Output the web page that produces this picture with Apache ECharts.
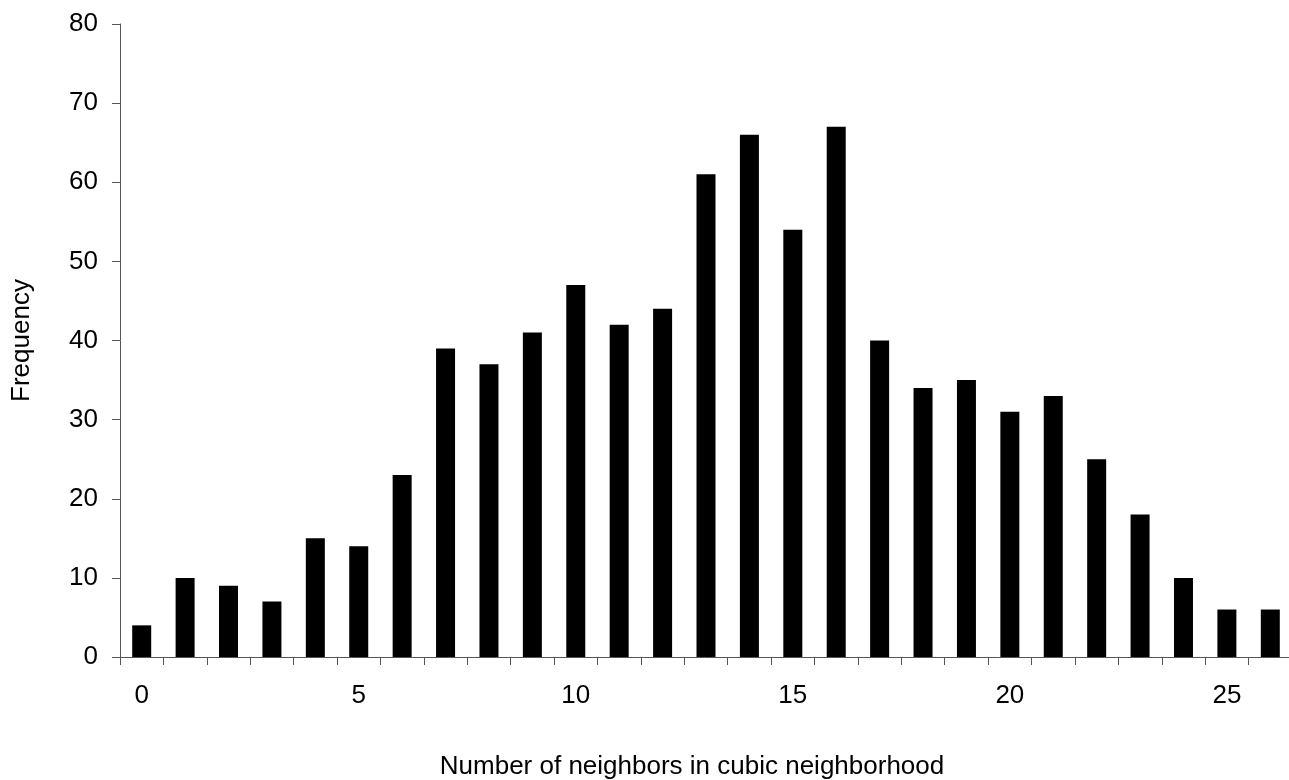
<!DOCTYPE html>
<html>
<head>
<meta charset="utf-8">
<script src="https://cdn.jsdelivr.net/npm/echarts@6/dist/echarts.min.js"></script>
<style>
    html, body {margin: 0; padding: 0; background: #fff;}
    #main {width: 1289px; height: 780px;}
</style>
</head>
<body>
<div id="main"></div>
<script>
// neighbour counts 0..26
var neighbors = ['0', '1', '2', '3', '4', '5', '6', '7', '8', '9', '10', '11', '12', '13',
    '14', '15', '16', '17', '18', '19', '20', '21', '22', '23', '24', '25', '26'];
var frequency = [4, 10, 9, 7, 15, 14, 23, 39, 37, 41, 47, 42, 44, 61,
    66, 54, 67, 40, 34, 35, 31, 33, 25, 18, 10, 6, 6];
var labelEvery = 5;

var font = 'Liberation Sans, Arial, sans-serif';
var axisColor = '#555';

var myChart = echarts.init(document.getElementById('main'));

var option = {
    animation: false,
    backgroundColor: '#fff',
    grid: {
        left: 120,
        top: 24,
        bottom: 123,
        right: -3,
        containLabel: false,
        outerBoundsMode: 'none'
    },
    xAxis: {
        type: 'category',
        data: neighbors,
        boundaryGap: true,
        name: 'Number of neighbors in cubic neighborhood',
        nameLocation: 'middle',
        nameGap: 97,
        nameTextStyle: {
            color: '#000',
            fontSize: 26,
            fontFamily: font,
            padding: [0, 28, 0, 0]
        },
        axisLine: {lineStyle: {color: axisColor, width: 1}},
        axisTick: {
            show: true,
            interval: 0,
            length: 8,
            alignWithLabel: false,
            lineStyle: {color: axisColor}
        },
        axisLabel: {
            interval: function (index) {
                return index % labelEvery === 0;
            },
            margin: 26,
            color: '#000',
            fontSize: 26,
            fontFamily: font
        },
        splitLine: {show: false}
    },
    yAxis: {
        type: 'value',
        min: 0,
        max: 80,
        interval: 10,
        name: 'Frequency',
        nameLocation: 'middle',
        nameGap: 85,
        nameTextStyle: {
            color: '#000',
            fontSize: 26,
            fontFamily: font
        },
        axisLine: {show: true, lineStyle: {color: axisColor, width: 1}},
        axisTick: {show: true, length: 8, lineStyle: {color: axisColor}},
        axisLabel: {
            margin: 22,
            color: '#000',
            fontSize: 26,
            fontFamily: font
        },
        splitLine: {show: false}
    },
    series: [
        {
            type: 'bar',
            data: frequency,
            barWidth: 19,
            itemStyle: {color: '#000'}
        }
    ]
};
myChart.setOption(option);
</script>
</body>
</html>
